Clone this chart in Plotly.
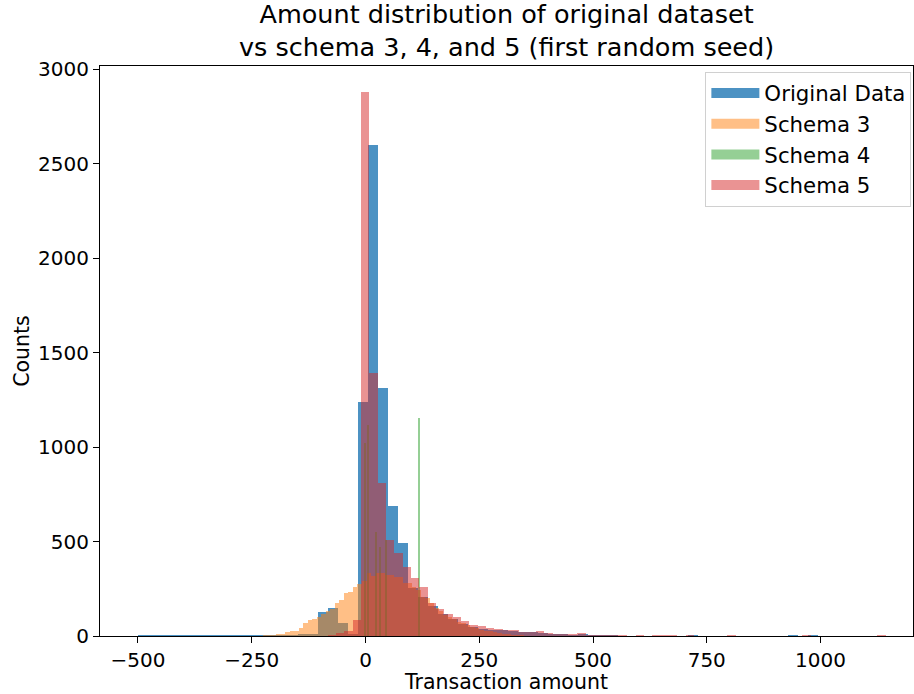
import plotly.graph_objects as go

# ---------------- data ----------------
# Original Data histogram: first bin edge, bin width, counts
orig_start = -500.7
orig_width = 21.98
orig_counts = [4, 3, 3, 4, 3, 3, 4, 3, 4, 4, 4, 4, 5, 5, 6, 6, 8, 10,
               128, 150, 67, 8, 1238, 2600, 1310, 690, 490, 252, 205, 160,
               118, 90, 65, 50, 35, 32, 30, 24, 22, 20, 14, 12, 10, 6, 12,
               4, 3, 3, 2, 2, 2, 1, 2, 1, 1, 3, 1, 0, 0, 1, 0, 0, 1, 0, 0,
               3, 0, 3]

# Schema 3 histogram
s3_start = -235.4
s3_width = 9.9
s3_counts = [2, 5, 5, 5, 10, 10, 22, 26, 26, 44, 70, 83, 88, 100, 115, 130,
             145, 172, 190, 229, 235, 258, 275, 290, 335, 317, 335, 335, 323,
             323, 312, 312, 279, 279, 258, 243, 208, 200, 175, 150, 130, 111,
             100, 90, 76, 70, 60, 49, 40, 32, 28, 24, 20, 16, 12, 10, 6, 4,
             3, 2, 2]

# Schema 4 histogram (only a few occupied, very narrow bins)
s4_width = 4.4
s4_centers = [-0.4, 6.2, 22.0, 31.9, 45.0, 118.2]
s4_counts = [1020, 1116, 552, 473, 508, 1155]

# Schema 5 histogram
s5_start = -83.1
s5_width = 18.3
s5_counts = [5, 15, 25, 83, 2880, 1390, 808, 510, 440, 365, 307, 260, 175,
             143, 115, 100, 78, 60, 53, 42, 38, 32, 30, 23, 23, 25, 16, 11,
             11, 10, 16, 7, 6, 4, 7, 3, 2, 3, 2, 3, 3, 3, 1, 3, 1, 0, 1, 0,
             3, 0, 0, 0, 0, 0, 0, 0, 0, 3, 0, 0, 0, 0, 0, 0, 0, 0, 3]

x_ticks = [-500, -250, 0, 250, 500, 750, 1000]
y_ticks = [0, 500, 1000, 1500, 2000, 2500, 3000]

names = ["Original Data", "Schema 3", "Schema 4", "Schema 5"]
colors = ["rgba(31,119,180,0.8)", "rgba(255,127,14,0.5)",
          "rgba(44,160,44,0.5)", "rgba(214,39,40,0.5)"]

TITLE = "Amount distribution of original dataset<br>vs schema 3, 4, and 5 (first random seed)"


def centers(start, width, n):
    return [start + width * (i + 0.5) for i in range(n)]


fig = go.Figure()

series = [
    (centers(orig_start, orig_width, len(orig_counts)), orig_counts, orig_width),
    (centers(s3_start, s3_width, len(s3_counts)), s3_counts, s3_width),
    (s4_centers, s4_counts, s4_width),
    (centers(s5_start, s5_width, len(s5_counts)), s5_counts, s5_width),
]

for (xs, ys, w), name, col in zip(series, names, colors):
    fig.add_trace(go.Bar(
        x=xs, y=ys, width=[w] * len(xs), name=name,
        marker=dict(color=col, line=dict(width=0)),
        showlegend=False, hoverinfo="skip",
    ))

# legend entries (patch-like swatches)
for name, col in zip(names, colors):
    fig.add_trace(go.Scatter(
        x=[None], y=[None], mode="lines", name=name,
        line=dict(color=col, width=15),
    ))

FONT = "DejaVu Sans"

fig.update_layout(
    width=914, height=694, autosize=False,
    margin=dict(l=100, r=1, t=66, b=58, pad=0),
    paper_bgcolor="white", plot_bgcolor="white",
    barmode="overlay", bargap=0,
    font=dict(family=FONT, color="black", size=20),
    annotations=[dict(
        text=TITLE, xref="paper", x=0.5, xanchor="center",
        yref="paper", y=1.0, yanchor="bottom", yshift=2,
        showarrow=False, align="center",
        font=dict(family=FONT, size=25.5, color="black"),
    )],
    legend=dict(
        x=0.998, xanchor="right", y=0.99, yanchor="top",
        bordercolor="#d0d0d0", borderwidth=1, bgcolor="white",
        font=dict(family=FONT, size=21.3, color="black"),
        itemwidth=48, tracegroupgap=0,
    ),
    xaxis=dict(
        range=[-583.5, 1203.3], tickmode="array", tickvals=x_ticks,
        ticks="outside", ticklen=6, tickwidth=1, tickcolor="black",
        showline=True, linecolor="black", linewidth=1, mirror=True,
        showgrid=False, zeroline=False, automargin=False,
        tickfont=dict(family=FONT, size=20),
        title=dict(text="Transaction amount", font=dict(family=FONT, size=20.5), standoff=3),
    ),
    yaxis=dict(
        range=[0, 3016], tickmode="array", tickvals=y_ticks,
        ticks="outside", ticklen=6, tickwidth=1, tickcolor="black",
        showline=True, linecolor="black", linewidth=1, mirror=True,
        showgrid=False, zeroline=False, automargin=False,
        tickfont=dict(family=FONT, size=20),
        title=dict(text="Counts", font=dict(family=FONT, size=20.5), standoff=2),
    ),
)

fig.write_html("out.html", config={"displayModeBar": False},
               post_script="document.body.style.margin='0px';")
